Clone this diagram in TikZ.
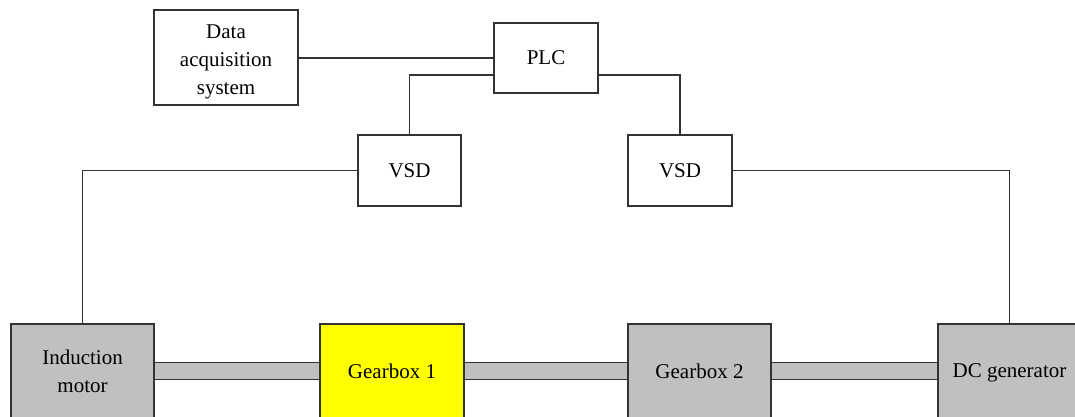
\documentclass[tikz,border=0pt]{standalone}
\usepackage{fontspec}
\setmainfont{Liberation Serif}
\definecolor{edge}{HTML}{333333}
\definecolor{boxgray}{HTML}{C0C0C0}
\definecolor{boxyellow}{HTML}{FFFF00}
\tikzset{
  blk/.style={draw=edge, line width=1.3pt, rectangle, inner sep=2pt, align=center,
    font=\fontsize{21}{28}\selectfont, text=black},
  whitebox/.style={blk, fill=white},
  graybox/.style={blk, fill=boxgray, minimum width=143pt, minimum height=94pt},
  wire/.style={draw=edge, line width=1.3pt},
  shaft/.style={draw=edge, line width=1.3pt, fill=boxgray}
}
\begin{document}
\begin{tikzpicture}[x=1pt,y=-1pt]
\useasboundingbox (0,0) rectangle (1075,417);
\clip (0,0) rectangle (1075,417);
\node[whitebox, minimum width=144pt, minimum height=95pt] (daq) at (226,57.5)
  {\raisebox{-3.5pt}[\height][\depth]{\begin{tabular}{@{}c@{}}Data\\acquisition\\system\end{tabular}}};
\node[whitebox, minimum width=104pt, minimum height=70pt] (plc) at (546,58) {PLC};
\node[whitebox, minimum width=103pt, minimum height=71pt] (vsdA) at (409.5,170.5) {VSD};
\node[whitebox, minimum width=104pt, minimum height=71pt] (vsdB) at (680,170.5) {VSD};
\node[graybox] (im) at (82.5,371) {Induction\\motor};
\node[graybox, fill=boxyellow, minimum width=144pt] (gbA) at (392,371) {Gearbox 1};
\node[graybox] (gbB) at (699.5,371) {Gearbox 2};
\node[graybox] (dc) at (1009.5,371) {\raisebox{0pt}[\height][0pt]{DC generator}};
\draw[wire] ([yshift=-0.5pt]daq.east) -- ([yshift=-0.5pt]daq.east -| plc.west);
\draw[wire] ([yshift=-17pt]plc.west) -| (vsdA.north);
\draw[wire] ([yshift=-17pt]plc.east) -| (vsdB.north);
\draw[wire] (vsdA.west) -| (im.north);
\draw[wire] (vsdB.east) -| (dc.north);
\draw[shaft] ([yshift=8.5pt]im.east) rectangle ([yshift=-8.5pt]gbA.west);
\draw[shaft] ([yshift=8.5pt]gbA.east) rectangle ([yshift=-8.5pt]gbB.west);
\draw[shaft] ([yshift=8.5pt]gbB.east) rectangle ([yshift=-8.5pt]dc.west);
\end{tikzpicture}
\end{document}
